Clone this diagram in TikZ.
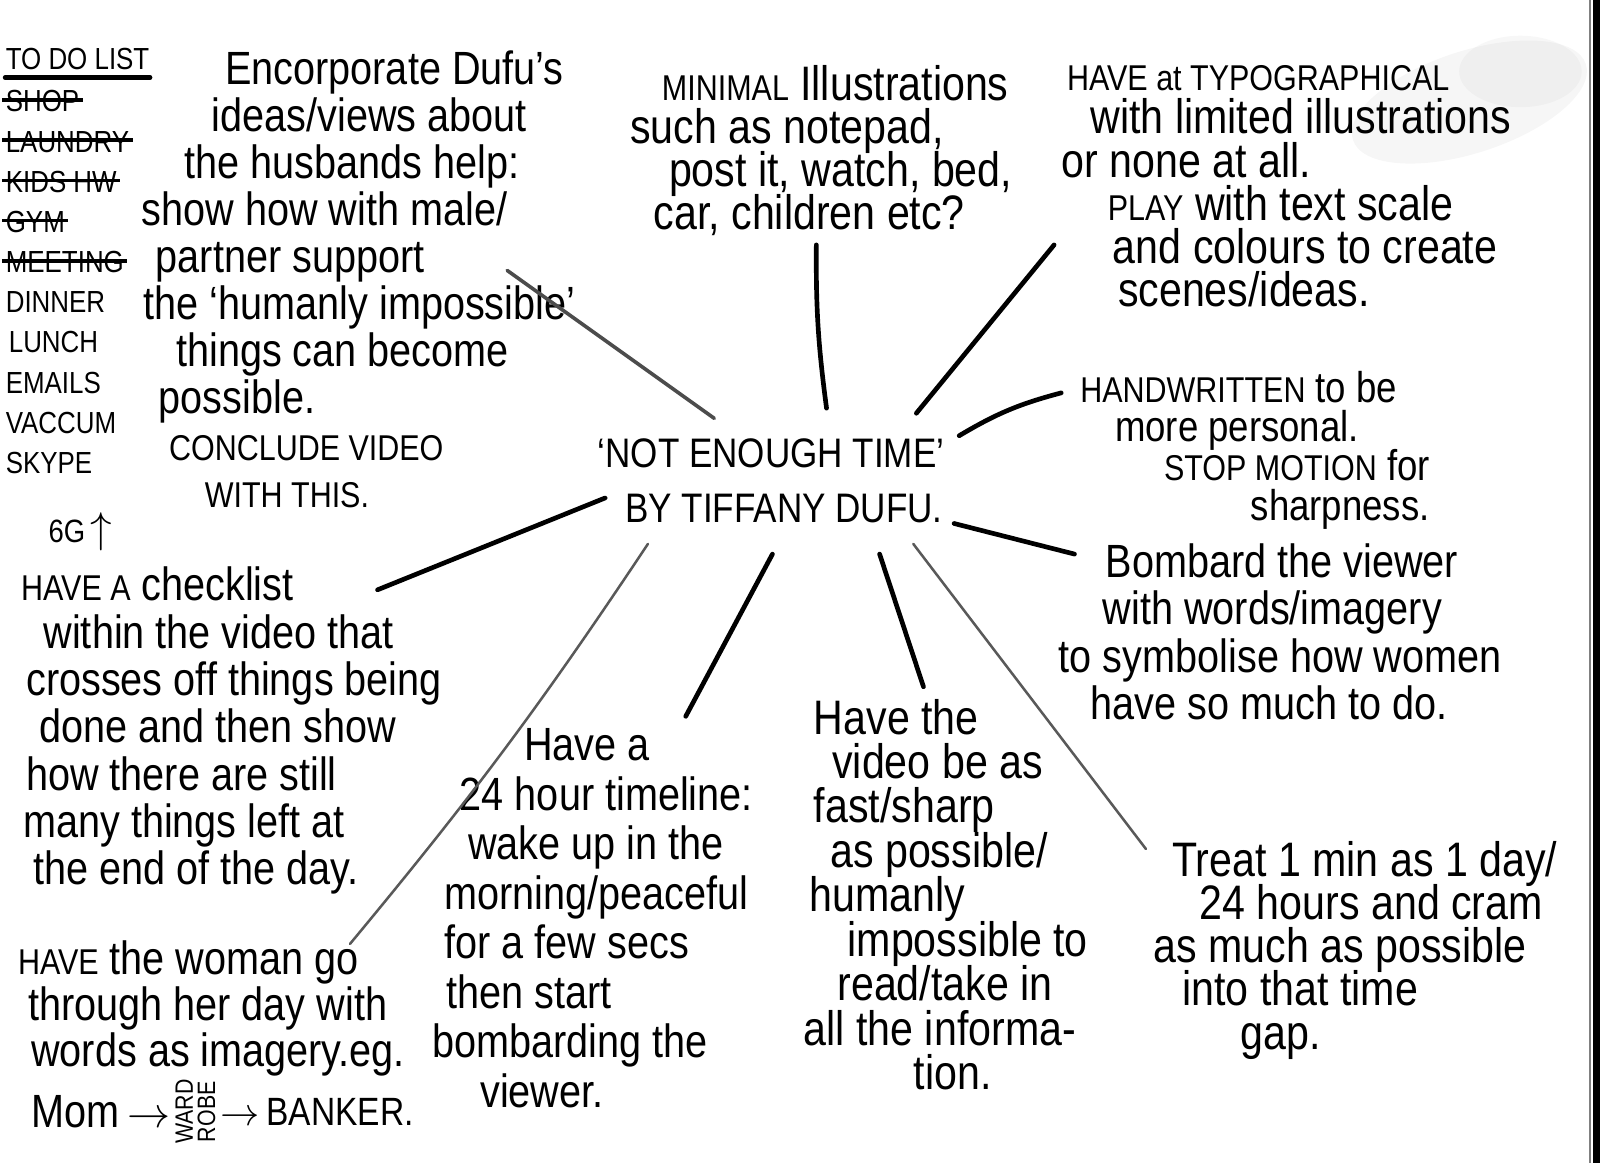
\documentclass[tikz,border=0pt]{standalone}
\usepackage{fontspec}
\setmainfont{Liberation Sans}[FakeStretch=0.85]
\usetikzlibrary{positioning}
\newsavebox{\durchbox}
\newcommand{\durch}[1]{\sbox{\durchbox}{#1}\rlap{\hspace*{-1pt}\rule[0.33em]{\dimexpr\wd\durchbox+2pt\relax}{1pt}}\usebox{\durchbox}}
\newcommand{\fsz}[2]{\fontsize{#1}{#2}\selectfont\lineskiplimit=-100pt\relax}
\newcommand{\kap}[1]{{\fontsize{10}{10}\selectfont #1}}
\tikzset{
  notiz/.style={anchor=base west, align=left, inner sep=0pt}, % base = letzte Zeile
  strich/.style={line width=1.3pt, line cap=round},
  duenn/.style={line width=0.7pt, gray!70!black, line cap=round},
}
\begin{document}
\begin{tikzpicture}
\useasboundingbox (0,0) rectangle (15.68,-11.40);
\fill[white] (0,0) rectangle (15.68,-11.40);
% Fleck oben rechts
\fill[gray, opacity=0.07, rotate around={18:(14.4,-1.0)}] (14.4,-1.0) ellipse (1.2 and 0.5);
\fill[gray, opacity=0.06] (14.9,-0.7) ellipse (0.6 and 0.35);
% Papierrand rechts
\fill[black] (15.61,0) rectangle (15.68,-11.40);
\draw[gray, line width=0.4pt] (15.58,0) -- (15.58,-11.40);

% Mitte
\node[notiz, font=\fsz{11.5}{15.3}] (titel) at (5.85,-5.12) {`NOT ENOUGH TIME'\\\hspace*{0.27cm}BY TIFFANY DUFU.};

% To-do-Liste
\node[notiz, font=\fsz{8.5}{11}] (todohd) at (0.05,-0.68) {TO DO LIST};
\draw[strich] ([yshift=-0.07cm]todohd.south west) -- ([yshift=-0.07cm]todohd.south east);
\node[notiz, font=\fsz{8.5}{11.2}] (todo) at (0.05,-4.64) {\durch{SHOP}\\\durch{LAUNDRY}\\\durch{KIDS HW}\\\durch{GYM}\\\durch{MEETING}\\DINNER\\\hspace*{0.03cm}LUNCH\\EMAILS\\VACCUM\\SKYPE};
\node[notiz, font=\fsz{9}{11}] (gg) at (0.47,-5.32) {6G\,{\large$\uparrow$}};

% Bloecke links
\node[notiz, font=\fsz{13}{13.1}] (enc) at (1.38,-4.97) {\hspace*{0.82cm}Encorporate Dufu's\\
  \hspace*{0.69cm}ideas/views about\\
  \hspace*{0.42cm}the husbands help:\\
  show how with male/\\
  \hspace*{0.14cm}partner support\\
  \hspace*{0.02cm}the `humanly impossible'\\
  \hspace*{0.34cm}things can become\\
  \hspace*{0.17cm}possible.\\
  \hspace*{0.27cm}\kap{CONCLUDE VIDEO}\\
  \hspace*{0.62cm}\kap{WITH THIS.}};
\node[notiz, font=\fsz{13}{13.2}] (check) at (0.20,-8.67) {\kap{HAVE A} checklist\\
  \hspace*{0.22cm}within the video that\\
  \hspace*{0.05cm}crosses off things being\\
  \hspace*{0.18cm}done and then show\\
  \hspace*{0.05cm}how there are still\\
  \hspace*{0.02cm}many things left at\\
  \hspace*{0.12cm}the end of the day.};
\node[notiz, font=\fsz{13}{12.8}] (woman) at (0.17,-10.45) {\kap{HAVE} the woman go\\
  \hspace*{0.10cm}through her day with\\
  \hspace*{0.13cm}words as imagery.eg.};
\node[notiz, font=\fsz{13}{13}] (mom) at (0.30,-11.05) {Mom\,$\rightarrow$};
\node[font=\fsz{7}{7}, rotate=90, inner sep=0pt, anchor=north] (ward) at ([xshift=0.04cm]mom.east) {WARD};
\node[font=\fsz{7}{7}, rotate=90, inner sep=0pt, anchor=north] (robe) at ([xshift=0.03cm]ward.south) {ROBE};
\node[font=\fsz{11}{11}, inner sep=0pt, anchor=west] (banker) at ([xshift=0.04cm]robe.south) {$\rightarrow$\,BANKER.};

% Bloecke oben
\node[notiz, font=\fsz{13.5}{12}] (min) at (6.17,-2.25) {\hspace*{0.31cm}\kap{MINIMAL} Illustrations\\
  such as notepad,\\
  \hspace*{0.38cm}post it, watch, bed,\\
  \hspace*{0.23cm}car, children etc?};
\node[notiz, font=\fsz{13.5}{12}] (typo) at (10.40,-3.00) {\hspace*{0.05cm}\kap{HAVE at TYPOGRAPHICAL}\\
  \hspace*{0.28cm}with limited illustrations\\
  or none at all.\\
  \hspace*{0.45cm}\kap{PLAY} with text scale\\
  \hspace*{0.50cm}and colours to create\\
  \hspace*{0.55cm}scenes/ideas.};

% Bloecke rechts
\node[notiz, font=\fsz{12}{11}] (hand) at (10.58,-5.10) {\kap{HANDWRITTEN} to be\\
  \hspace*{0.34cm}more personal.\\
  \hspace*{0.82cm}\kap{STOP MOTION} for\\
  \hspace*{1.67cm}sharpness.};
\node[notiz, font=\fsz{13}{13.2}] (bomb) at (10.37,-7.05) {\hspace*{0.46cm}Bombard the viewer\\
  \hspace*{0.43cm}with words/imagery\\
  to symbolise how women\\
  \hspace*{0.31cm}have so much to do.};
\node[notiz, font=\fsz{13.5}{12.05}] (treat) at (11.30,-10.28) {\hspace*{0.18cm}Treat 1 min as 1 day/\\
  \hspace*{0.45cm}24 hours and cram\\
  as much as possible\\
  \hspace*{0.28cm}into that time\\
  \hspace*{0.85cm}gap.};

% Bloecke unten
\node[notiz, font=\fsz{13.5}{12.4}] (fast) at (7.87,-10.68) {\hspace*{0.10cm}Have the\\
  \hspace*{0.28cm}video be as\\
  \hspace*{0.10cm}fast/sharp\\
  \hspace*{0.26cm}as possible/\\
  \hspace*{0.06cm}humanly\\
  \hspace*{0.43cm}impossible to\\
  \hspace*{0.33cm}read/take in\\
  all the informa-\\
  \hspace*{1.08cm}tion.};
\node[notiz, font=\fsz{13}{13.8}] (tl) at (4.23,-10.85) {\hspace*{0.90cm}Have a\\
  \hspace*{0.27cm}24 hour timeline:\\
  \hspace*{0.35cm}wake up in the\\
  \hspace*{0.12cm}morning/peaceful\\
  \hspace*{0.12cm}for a few secs\\
  \hspace*{0.14cm}then start\\
  bombarding the\\
  \hspace*{0.47cm}viewer.};

% Enden der Striche
\coordinate (enc-a) at (7.00,-4.10); \coordinate (enc-b) at (4.97,-2.65);
\coordinate (min-a) at (8.10,-4.00); \coordinate (min-b) at (8.00,-2.40);
\coordinate (typo-a) at (8.98,-4.05); \coordinate (typo-b) at (10.33,-2.40);
\coordinate (hand-a) at (9.40,-4.27); \coordinate (hand-b) at (10.40,-3.85);
\coordinate (bomb-a) at (9.35,-5.13); \coordinate (bomb-b) at (10.53,-5.43);
\coordinate (treat-a) at (8.95,-5.33); \coordinate (treat-b) at (11.23,-8.32);
\coordinate (fast-a) at (8.62,-5.43); \coordinate (fast-b) at (9.05,-6.73);
\coordinate (tl-a) at (7.57,-5.43); \coordinate (tl-b) at (6.72,-7.02);
\coordinate (woman-a) at (6.35,-5.33); \coordinate (woman-b) at (3.43,-9.25);
\coordinate (check-a) at (5.93,-4.88); \coordinate (check-b) at (3.70,-5.78);

% Striche
\draw[strich, gray!60!black, line width=1pt] (enc-a) -- (enc-b); % oben links
\draw[strich] (min-a) to[bend left=4] (min-b); % oben
\draw[strich] (typo-a) -- (typo-b); % oben rechts
\draw[strich] (hand-a) to[bend left=8] (hand-b); % rechts
\draw[strich] (bomb-a) -- (bomb-b);
\draw[duenn] (treat-a) -- (treat-b); % lang, rechts unten
\draw[strich] (fast-a) -- (fast-b);
\draw[strich] (tl-a) -- (tl-b);
\draw[duenn] (woman-a) to[bend left=3] (woman-b); % lang, links unten
\draw[strich] (check-a) -- (check-b); % links
\end{tikzpicture}
\end{document}
